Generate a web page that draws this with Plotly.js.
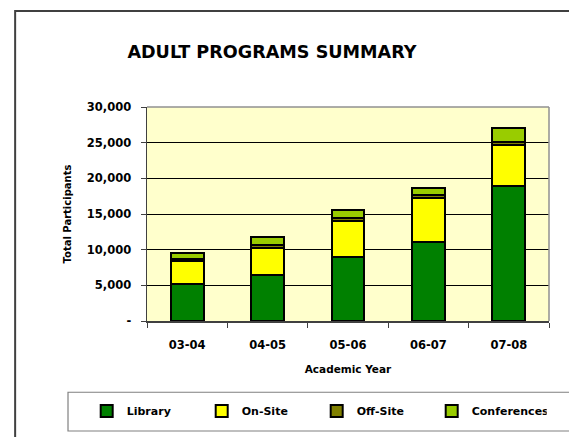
<!DOCTYPE html>
<html>
<head>
<meta charset="utf-8">
<script src="https://cdn.plot.ly/plotly-3.0.1.min.js"></script>
<style>html,body{margin:0;padding:0;background:#fff;}#chart{width:569px;height:437px;}</style>
</head>
<body>
<div id="chart"></div>
<script>
const years = ['03-04', '04-05', '05-06', '06-07', '07-08'];
const library = [5200, 6400, 9000, 11100, 18900];
const onSite = [3200, 3900, 5000, 6200, 5750];
const offSite = [300, 300, 450, 400, 400];
const conferences = [900, 1150, 1050, 900, 2000];
const seriesNames = ['Library', 'On-Site', 'Off-Site', 'Conferences'];
const seriesColors = ['#008000', '#FFFF00', '#808000', '#99CC00'];
const yTickVals = [0, 5000, 10000, 15000, 20000, 25000, 30000];
const yTickText = ['-', '5,000', '10,000', '15,000', '20,000', '25,000', '30,000'];

const FONT = '"DejaVu Sans", Verdana, sans-serif';
const seriesData = [library, onSite, offSite, conferences];
const traces = seriesData.map((vals, i) => ({
  type: 'bar',
  name: seriesNames[i],
  x: years,
  y: vals,
  marker: {color: seriesColors[i], line: {color: '#000000', width: 2}},
  hoverinfo: 'skip'
}));

const layout = {
  width: 569, height: 437,
  margin: {l: 147, r: 20, t: 107, b: 114},
  paper_bgcolor: '#ffffff',
  plot_bgcolor: '#FFFFCC',
  barmode: 'stack',
  bargap: 0.59,
  font: {family: FONT, color: '#000', size: 11},
  title: {text: 'ADULT PROGRAMS SUMMARY', x: 0.478, xanchor: 'center', y: 0.881, yanchor: 'middle',
          font: {family: FONT, size: 17.6, color: '#000', weight: 'bold'}},
  xaxis: {
    type: 'category',
    showline: true, linecolor: '#404040', linewidth: 1.5,
    ticks: 'outside', tickson: 'boundaries', ticklen: 5, tickcolor: '#404040',
    ticklabelstandoff: 13,
    tickfont: {family: FONT, size: 11.5, color: '#000', weight: 'bold'},
    title: {text: 'Academic Year', font: {family: FONT, size: 10.5, color: '#000', weight: 'bold'}, standoff: 14},
    showgrid: false, zeroline: false, fixedrange: true
  },
  yaxis: {
    range: [0, 30000],
    tickvals: yTickVals, ticktext: yTickText,
    showline: true, linecolor: '#404040', linewidth: 1.5,
    ticks: 'outside', ticklen: 5, tickcolor: '#404040',
    ticklabelstandoff: 7,
    tickfont: {family: FONT, size: 11.5, color: '#000', weight: 'bold'},
    showgrid: true, gridcolor: '#000000', gridwidth: 1,
    zeroline: false,
    title: {text: 'Total Participants', font: {family: FONT, size: 10, color: '#000', weight: 'bold'}, standoff: 13},
    fixedrange: true
  },
  showlegend: true,
  legend: {
    orientation: 'h', x: -0.15, xanchor: 'left', y: -0.421, yanchor: 'middle',
    entrywidth: 70, entrywidthmode: 'pixels', traceorder: 'normal',
    bgcolor: 'rgba(0,0,0,0)', borderwidth: 0,
    font: {family: FONT, size: 11, color: '#000', weight: 'bold'}
  },
  shapes: [
    {type: 'rect', xref: 'paper', yref: 'paper', x0: -0.328, x1: 1.06, y0: -0.56, y1: 1.449,
     line: {color: '#404040', width: 2}, fillcolor: 'rgba(0,0,0,0)', layer: 'below'},
    {type: 'rect', xref: 'paper', yref: 'paper', x0: -0.1965, x1: 1.06, y0: -0.514, y1: -0.333,
     line: {color: '#808080', width: 1.2}, fillcolor: 'rgba(0,0,0,0)'},
    {type: 'line', xref: 'paper', yref: 'paper', x0: 0, x1: 1, y0: 1, y1: 1, line: {color: '#909090', width: 1.5}},
    {type: 'line', xref: 'paper', yref: 'paper', x0: 1, x1: 1, y0: 0, y1: 1, line: {color: '#909090', width: 1.5}}
  ]
};

Plotly.newPlot('chart', traces, layout, {displayModeBar: false, staticPlot: true});
</script>
</body>
</html>
